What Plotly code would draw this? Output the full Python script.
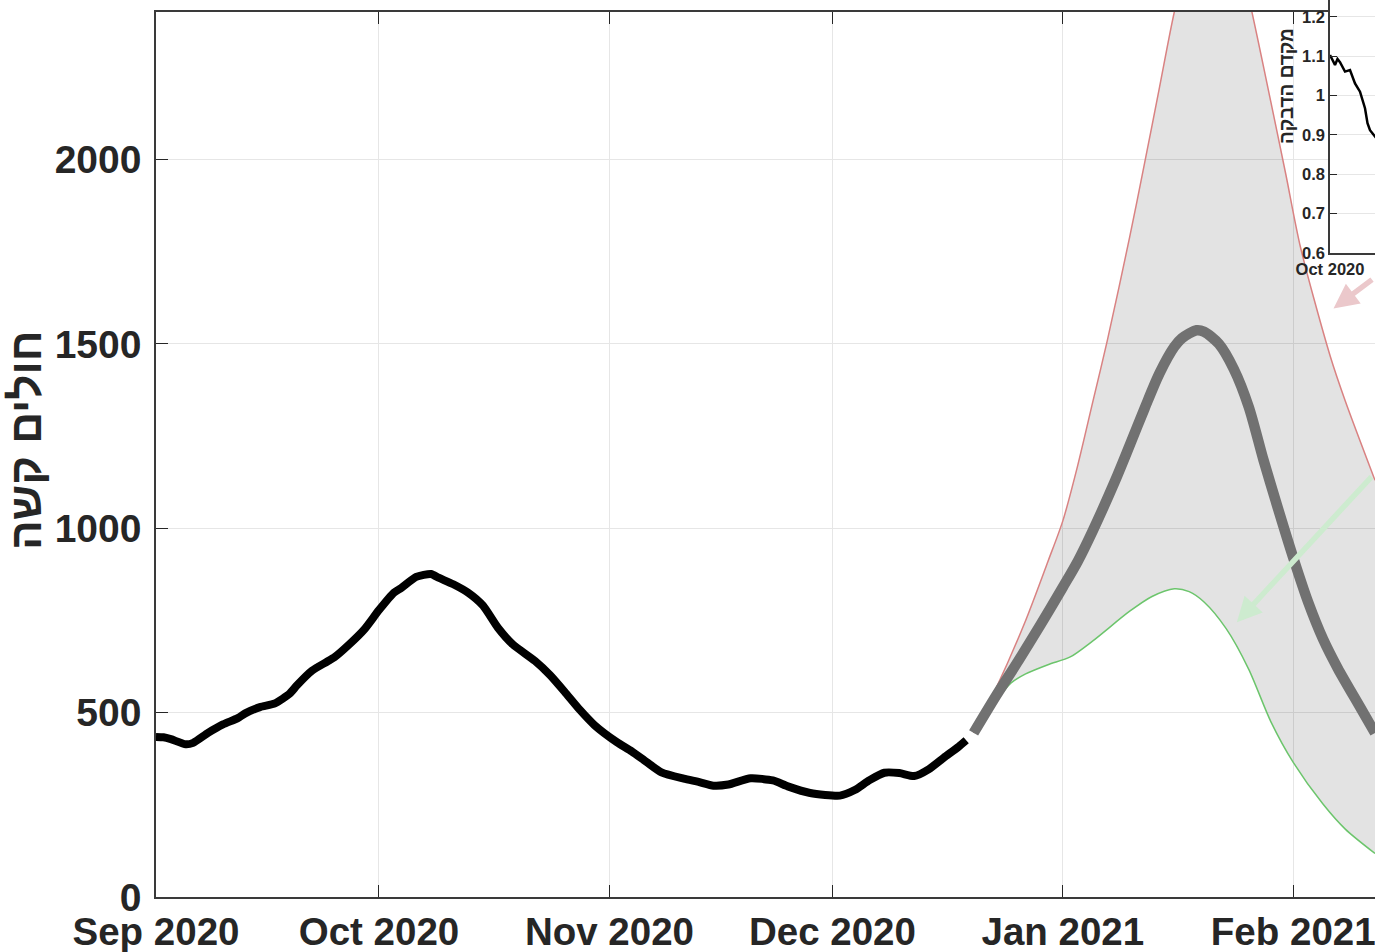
import plotly.graph_objects as go

# ---------------- data ----------------
obs_dates = ["2020-09-01","2020-09-02","2020-09-03","2020-09-05","2020-09-06","2020-09-08","2020-09-10",
             "2020-09-12","2020-09-13","2020-09-15","2020-09-17","2020-09-19","2020-09-20","2020-09-22",
             "2020-09-24","2020-09-25","2020-09-27","2020-09-29","2020-10-01","2020-10-03","2020-10-04",
             "2020-10-06","2020-10-08","2020-10-09","2020-10-11","2020-10-13","2020-10-15","2020-10-17",
             "2020-10-19","2020-10-22","2020-10-24","2020-10-26","2020-10-28","2020-10-30","2020-11-02",
             "2020-11-04","2020-11-06","2020-11-08","2020-11-11","2020-11-13","2020-11-15","2020-11-17",
             "2020-11-20","2020-11-23","2020-11-25","2020-11-28","2020-12-02","2020-12-04","2020-12-06",
             "2020-12-08","2020-12-10","2020-12-12","2020-12-14","2020-12-16","2020-12-18","2020-12-19"]
obs_values = [434,433,428,414,418,445,468,
              485,498,515,525,552,575,614,
              638,650,685,725,778,825,838,
              868,876,866,848,825,790,730,
              685,640,602,556,508,466,420,
              395,366,338,321,312,302,305,
              322,316,300,282,275,290,317,
              337,336,328,347,378,408,425]

mean_dates = ["2020-12-20","2020-12-23","2020-12-26","2020-12-29","2021-01-01","2021-01-03","2021-01-05",
              "2021-01-08","2021-01-10","2021-01-12","2021-01-14","2021-01-16","2021-01-17","2021-01-19",
              "2021-01-20","2021-01-22","2021-01-24","2021-01-26","2021-01-28","2021-01-30","2021-02-01",
              "2021-02-03","2021-02-05","2021-02-07","2021-02-10","2021-02-12"]
mean_values = [445,545,640,738,840,910,992,
               1127,1225,1325,1420,1492,1515,1537,
               1533,1500,1432,1330,1185,1050,920,
               800,700,620,515,445]

upper_dates = ["2020-12-20","2020-12-23","2020-12-27","2020-12-30","2021-01-01","2021-01-03","2021-01-05",
               "2021-01-07","2021-01-10","2021-01-12","2021-01-14","2021-01-16","2021-01-18","2021-01-20",
               "2021-01-22","2021-01-24","2021-01-26","2021-01-29","2021-01-31","2021-02-02","2021-02-06",
               "2021-02-08","2021-02-12"]
upper_values = [445,565,750,910,1020,1170,1340,
                1510,1790,1990,2195,2400,2560,2660,
                2680,2600,2440,2155,1960,1760,1465,
                1345,1130]

lower_dates = ["2020-12-20","2020-12-23","2020-12-25","2020-12-27","2020-12-30","2021-01-02","2021-01-05",
               "2021-01-10","2021-01-13","2021-01-16","2021-01-18","2021-01-20","2021-01-23","2021-01-26",
               "2021-01-29","2021-02-01","2021-02-05","2021-02-08","2021-02-12"]
lower_values = [445,530,580,605,630,651,694,
                775,815,836,828,800,727,618,
                475,365,252,184,118]

r_dates = ["2020-10-01","2020-10-03","2020-10-04","2020-10-05","2020-10-07","2020-10-09","2020-10-11",
           "2020-10-13","2020-10-15","2020-10-16","2020-10-17","2020-10-19","2020-10-21"]
r_values = [1.103,1.078,1.093,1.085,1.061,1.065,1.031,
            1.010,0.968,0.930,0.912,0.895,0.88]

x_ticks = ["2020-09-01","2020-10-01","2020-11-01","2020-12-01","2021-01-01","2021-02-01"]
x_ticklabels = ["Sep 2020","Oct 2020","Nov 2020","Dec 2020","Jan 2021","Feb 2021"]
y_ticks = [0,500,1000,1500,2000]
r_ticks = [0.6,0.7,0.8,0.9,1.0,1.1,1.2]
r_ticklabels = ["0.6","0.7","0.8","0.9","1","1.1","1.2"]
inset_x_ticks = ["2020-10-01"]
inset_x_ticklabels = ["Oct 2020"]

y_title = "חולים קשה"
inset_y_title = "מקדם הדבקה"

# ---------------- layout geometry ----------------
W, H = 1375, 952
FONT = "Liberation Sans"
TXT = "#262626"

fig = go.Figure()

fig.add_trace(go.Scatter(x=lower_dates, y=lower_values, mode="lines",
                         line=dict(color="#6cc56c", width=1.5, shape="spline", smoothing=0.8),
                         xaxis="x", yaxis="y", showlegend=False, hoverinfo="skip"))
fig.add_trace(go.Scatter(x=upper_dates, y=upper_values, mode="lines", fill="tonexty",
                         fillcolor="rgba(0,0,0,0.11)",
                         line=dict(color="#d98282", width=1.5, shape="spline", smoothing=0.8),
                         xaxis="x", yaxis="y", showlegend=False, hoverinfo="skip"))
fig.add_trace(go.Scatter(x=mean_dates, y=mean_values, mode="lines",
                         line=dict(color="#717171", width=10.5, shape="spline", smoothing=0.8),
                         xaxis="x", yaxis="y", showlegend=False))
fig.add_trace(go.Scatter(x=obs_dates, y=obs_values, mode="lines",
                         line=dict(color="#000000", width=8, shape="spline", smoothing=0.6),
                         xaxis="x", yaxis="y", showlegend=False))
fig.add_trace(go.Scatter(x=r_dates, y=r_values, mode="lines",
                         line=dict(color="#000000", width=2.5),
                         xaxis="x2", yaxis="y2", showlegend=False))

main_x_dom = [156 / W, 1.0]
main_y_dom = [(H - 897) / H, (H - 12) / H]
inset_x_dom = [1330 / W, 1.0]
inset_y_dom = [(H - 253) / H, 1.0]

fig.update_layout(
    width=W, height=H,
    margin=dict(l=0, r=0, t=0, b=0, autoexpand=False),
    paper_bgcolor="white", plot_bgcolor="white",
    showlegend=False,
    xaxis=dict(domain=main_x_dom, range=["2020-09-01", "2021-02-12"], type="date",
               tickmode="array", tickvals=x_ticks, ticktext=x_ticklabels,
               ticks="inside", ticklen=12, tickcolor=TXT, tickwidth=1,
               showline=True, linecolor="#3a3a3a", linewidth=1.5, mirror="allticks",
               showgrid=True, gridcolor="#e6e6e6", gridwidth=1, zeroline=False,
               tickfont=dict(family=FONT, size=38.5, color=TXT, weight="bold"),
               ticklabeloverflow="allow",
               automargin=False, anchor="y"),
    yaxis=dict(domain=main_y_dom, range=[0, 2400],
               tickmode="array", tickvals=y_ticks,
               ticks="inside", ticklen=12, tickcolor=TXT, tickwidth=1,
               showline=True, linecolor="#3a3a3a", linewidth=1.5, mirror=False,
               showgrid=True, gridcolor="#e6e6e6", gridwidth=1, zeroline=False,
               tickfont=dict(family=FONT, size=39, color=TXT, weight="bold"),
               ticklabelstandoff=5, ticklabeloverflow="allow",
               automargin=False, anchor="x"),
    xaxis2=dict(domain=inset_x_dom, range=["2020-10-01", "2020-10-19"], type="date",
                tickmode="array", tickvals=inset_x_ticks, ticktext=inset_x_ticklabels,
                ticks="inside", ticklen=6, tickcolor=TXT,
                showline=True, linecolor="#3a3a3a", linewidth=1.5,
                showgrid=True, gridcolor="#e6e6e6", zeroline=False,
                tickfont=dict(family=FONT, size=16.5, color=TXT, weight="bold"),
                ticklabeloverflow="allow",
                automargin=False, anchor="y2"),
    yaxis2=dict(domain=inset_y_dom, range=[0.6, 1.243],
                tickmode="array", tickvals=r_ticks, ticktext=r_ticklabels,
                ticks="inside", ticklen=7, tickcolor=TXT,
                showline=True, linecolor="#3a3a3a", linewidth=1.5,
                showgrid=True, gridcolor="#e6e6e6", zeroline=False,
                tickfont=dict(family=FONT, size=16.5, color=TXT, weight="bold"),
                ticklabeloverflow="allow",
                automargin=False, anchor="x2"),
)

annotations = [
    dict(text=y_title, xref="paper", yref="paper", x=25 / W, y=(H - 441) / H,
         xanchor="center", yanchor="middle", textangle=-90, showarrow=False,
         font=dict(family=FONT, size=44, color=TXT, weight="bold")),
    dict(text=inset_y_title, xref="paper", yref="paper", x=1286 / W, y=(H - 86) / H,
         xanchor="center", yanchor="middle", textangle=-90, showarrow=False,
         font=dict(family=FONT, size=19, color=TXT, weight="bold")),
    # arrows pointing to upper and lower scenario curves
    dict(x="2021-02-06 10:00", y=1596, xref="x", yref="y", text="", showarrow=True,
         ax=40, ay=-30, axref="pixel", ayref="pixel",
         arrowcolor="#ebc8cb", arrowwidth=5.5, arrowhead=2, arrowsize=0.9),
    dict(x="2021-01-24 10:00", y=745, xref="x", yref="y", text="", showarrow=True,
         ax=136, ay=-147, axref="pixel", ayref="pixel",
         arrowcolor="#cdebcf", arrowwidth=5.5, arrowhead=2, arrowsize=0.9),
]
fig.update_layout(annotations=annotations)

fig.write_html("out.html", config={"displayModeBar": False},
               post_script="document.body.style.margin='0px';document.body.style.overflow='hidden';")
